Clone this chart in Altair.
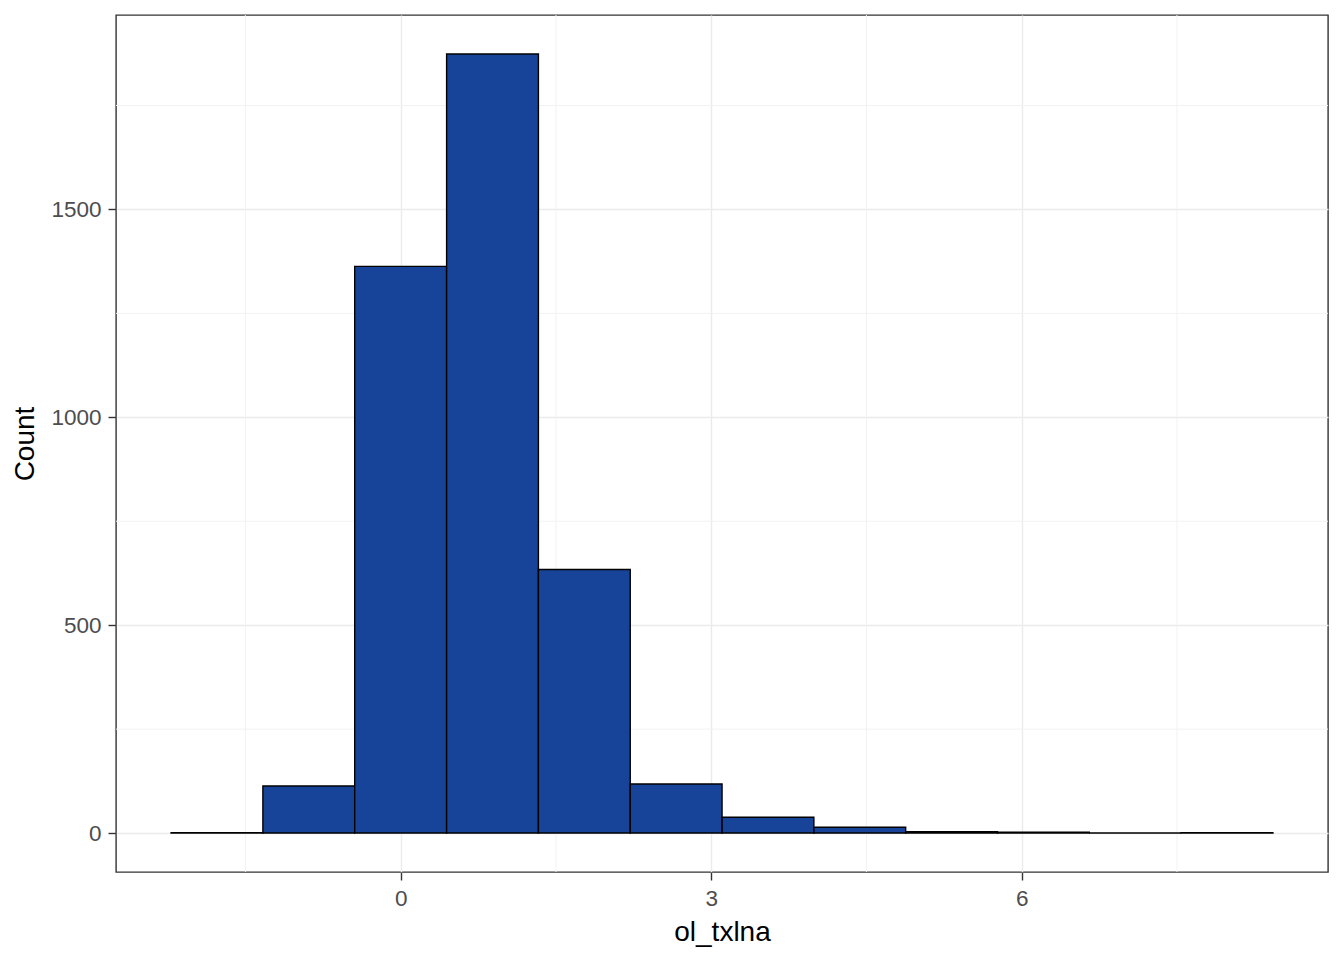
import altair as alt
import pandas as pd

# Histogram data
bin_lo = [-2.218, -1.331, -0.444, 0.444, 1.331, 2.218, 3.105, 3.992, 4.879, 5.766, 6.653, 7.540]
bin_hi = [-1.331, -0.444, 0.444, 1.331, 2.218, 3.105, 3.992, 4.879, 5.766, 6.653, 7.540, 8.427]
counts = [1, 113, 1363, 1874, 634, 118, 38, 14, 3, 2, 0, 1]

x_ticks = [0, 3, 6]
y_ticks = [0, 500, 1000, 1500]
x_minor = [-1.5, 1.5, 4.5, 7.5]
y_minor = [250, 750, 1250, 1750]

x_domain = [-2.750, 8.959]
y_domain = [-93.7, 1967.7]

FONT = "Liberation Sans"

bars = pd.DataFrame({"lo": bin_lo, "hi": bin_hi, "count": counts})
xminor_df = pd.DataFrame({"v": x_minor})
yminor_df = pd.DataFrame({"v": y_minor})

xscale = alt.Scale(domain=x_domain, nice=False, zero=False)
yscale = alt.Scale(domain=y_domain, nice=False, zero=False)

x_axis = alt.Axis(
    values=x_ticks, format="d", title="ol_txlna", grid=True, gridColor="#EBEBEB", gridWidth=1.4,
    domain=False, tickColor="#333333", tickSize=8, tickWidth=1.4,
    labelFont=FONT, labelFontSize=22.5, labelColor="#4D4D4D", labelPadding=7,
    titleFont=FONT, titleFontSize=28, titleColor="black", titleFontWeight="normal",
    titlePadding=9,
)
y_axis = alt.Axis(
    values=y_ticks, format="d", title="Count", grid=True, gridColor="#EBEBEB", gridWidth=1.4,
    domain=False, tickColor="#333333", tickSize=8, tickWidth=1.4,
    labelFont=FONT, labelFontSize=22.5, labelColor="#4D4D4D", labelPadding=7,
    titleFont=FONT, titleFontSize=28, titleColor="black", titleFontWeight="normal",
    titlePadding=11,
)

vminor = alt.Chart(xminor_df).mark_rule(color="#F2F2F2", strokeWidth=1).encode(
    x=alt.X("v:Q", scale=xscale, axis=x_axis)
)
hminor = alt.Chart(yminor_df).mark_rule(color="#F2F2F2", strokeWidth=1).encode(
    y=alt.Y("v:Q", scale=yscale, axis=y_axis)
)

hist = alt.Chart(bars).mark_rect(
    color="#174499", stroke="black", strokeWidth=1.4
).encode(
    x=alt.X("lo:Q", scale=xscale, axis=x_axis),
    x2="hi",
    y=alt.Y("count:Q", scale=yscale, axis=y_axis),
    y2=alt.datum(0),
)

chart = alt.layer(vminor, hminor, hist).properties(
    width=1212,
    height=857,
    autosize=alt.AutoSizeParams(type="none"),
    padding={"left": 108, "top": 7, "right": 8, "bottom": 78},
    background="white",
).configure_view(
    stroke="#333333", strokeWidth=1.4
)

chart.save("out.html", embed_options={"renderer": "svg", "actions": False})
